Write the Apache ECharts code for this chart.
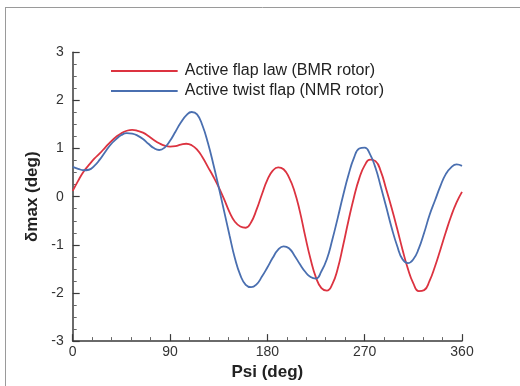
<!DOCTYPE html>
<html>
<head>
<meta charset="utf-8">
<script src="https://cdn.jsdelivr.net/npm/echarts@6/dist/echarts.min.js"></script>
<style>
html,body{margin:0;padding:0;background:#fff;}
#chart{width:520px;height:386px;}
</style>
</head>
<body>
<div id="chart"></div>
<script>
const seriesNames = ['Active flap law (BMR rotor)', 'Active twist flap (NMR rotor)'];
const xTicks = [0, 90, 180, 270, 360];
const yTicks = [-3, -2, -1, 0, 1, 2, 3];

// azimuth samples, every 5 deg
const psi = [0, 5, 10, 15, 20, 25, 30, 35, 40, 45, 50, 55, 60, 65, 70, 75, 80, 85, 90, 95, 100, 105, 110, 115, 120, 125, 130, 135, 140, 145, 150, 155, 160, 165, 170, 175, 180, 185, 190, 195, 200, 205, 210, 215, 220, 225, 230, 235, 240, 245, 250, 255, 260, 265, 270, 275, 280, 285, 290, 295, 300, 305, 310, 315, 320, 325, 330, 335, 340, 345, 350, 355, 360];

const redVal = [0.12, 0.33, 0.52, 0.66, 0.79, 0.9, 1.02, 1.14, 1.24, 1.32, 1.37, 1.39, 1.37, 1.33, 1.26, 1.18, 1.11, 1.06, 1.04, 1.05, 1.08, 1.1, 1.07, 0.98, 0.82, 0.62, 0.42, 0.2, -0.05, -0.32, -0.52, -0.62, -0.645, -0.53, -0.27, 0.05, 0.35, 0.54, 0.61, 0.57, 0.4, 0.12, -0.3, -0.82, -1.3, -1.68, -1.9, -1.95, -1.82, -1.5, -1.02, -0.5, -0.02, 0.38, 0.65, 0.77, 0.74, 0.52, 0.15, -0.24, -0.66, -1.1, -1.5, -1.8, -1.96, -1.94, -1.75, -1.45, -1.1, -0.74, -0.4, -0.12, 0.1];

const blueVal = [0.62, 0.58, 0.55, 0.56, 0.64, 0.77, 0.93, 1.08, 1.19, 1.28, 1.32, 1.31, 1.27, 1.2, 1.1, 1.01, 0.97, 1.02, 1.16, 1.35, 1.54, 1.69, 1.76, 1.71, 1.48, 1.12, 0.68, 0.2, -0.3, -0.8, -1.28, -1.63, -1.83, -1.88, -1.82, -1.66, -1.47, -1.27, -1.1, -1.03, -1.07, -1.22, -1.4, -1.56, -1.67, -1.7, -1.55, -1.3, -0.9, -0.45, 0.02, 0.45, 0.8, 1.0, 1.02, 0.88, 0.6, 0.2, -0.22, -0.65, -1.02, -1.3, -1.38, -1.3, -1.08, -0.75, -0.38, -0.08, 0.22, 0.47, 0.61, 0.67, 0.64];

const zip = (xs, ys) => xs.map((x, i) => [x, ys[i]]);
const FONT = '"Liberation Sans", Arial, Helvetica, sans-serif';
const AX = '#3a3a3a';

const chart = echarts.init(document.getElementById('chart'), null, {renderer: 'canvas'});
chart.setOption({
  backgroundColor: '#fff',
  animation: false,
  graphic: [
    {type: 'line', shape: {x1: 5, y1: 7.5, x2: 520, y2: 7.5}, style: {stroke: '#9a9a9a', lineWidth: 1}},
    {type: 'line', shape: {x1: 5.5, y1: 7, x2: 5.5, y2: 386}, style: {stroke: '#9a9a9a', lineWidth: 1}}
  ],
  legend: {
    orient: 'vertical',
    left: 106,
    top: 58,
    icon: 'path://M0 0H100V3H0Z',
    itemWidth: 67,
    itemHeight: 2,
    itemGap: 4,
    textStyle: {fontFamily: FONT, fontSize: 16, lineHeight: 14, color: '#222', padding: [0, 0, 0, 2]},
    data: seriesNames
  },
  grid: {left: 72.7, right: 58, top: 52.3, bottom: 39.3, containLabel: false},
  xAxis: {
    type: 'value', min: 0, max: 360, interval: 90,
    name: 'Psi (deg)', nameLocation: 'middle', nameGap: 12,
    nameTextStyle: {fontFamily: FONT, fontSize: 17, fontWeight: 'bold', color: '#222'},
    axisLine: {show: true, onZero: false, lineStyle: {color: AX, width: 1.5}},
    axisTick: {show: true, inside: true, length: 7, lineStyle: {color: AX, width: 1.2}},
    minorTick: {show: true, splitNumber: 5, length: 4, lineStyle: {color: '#666', width: 1}},
    axisLabel: {fontFamily: FONT, fontSize: 14, color: '#333', margin: 4,
      formatter: v => xTicks.includes(v) ? String(v) : ''},
    splitLine: {show: false}
  },
  yAxis: {
    type: 'value', min: -3, max: 3, interval: 1,
    name: 'δmax (deg)', nameLocation: 'middle', nameGap: 27, nameRotate: 90,
    nameTextStyle: {fontFamily: FONT, fontSize: 17, fontWeight: 'bold', color: '#222'},
    axisLine: {show: true, onZero: false, lineStyle: {color: AX, width: 1.5}},
    axisTick: {show: true, inside: true, length: 7, lineStyle: {color: AX, width: 1.2}},
    minorTick: {show: true, splitNumber: 4, length: 4, lineStyle: {color: '#666', width: 1}},
    axisLabel: {fontFamily: FONT, fontSize: 14, color: '#333', margin: 9,
      formatter: v => yTicks.includes(v) ? String(v) : ''},
    splitLine: {show: false}
  },
  series: [
    {name: seriesNames[0], type: 'line', data: zip(psi, redVal), smooth: 0.5, symbol: 'none',
      lineStyle: {color: '#dc3340', width: 1.8}, itemStyle: {color: '#dc3340'}, z: 2},
    {name: seriesNames[1], type: 'line', data: zip(psi, blueVal), smooth: 0.5, symbol: 'none',
      lineStyle: {color: '#4a6fb0', width: 1.8}, itemStyle: {color: '#4a6fb0'}, z: 3}
  ]
});
</script>
</body>
</html>
